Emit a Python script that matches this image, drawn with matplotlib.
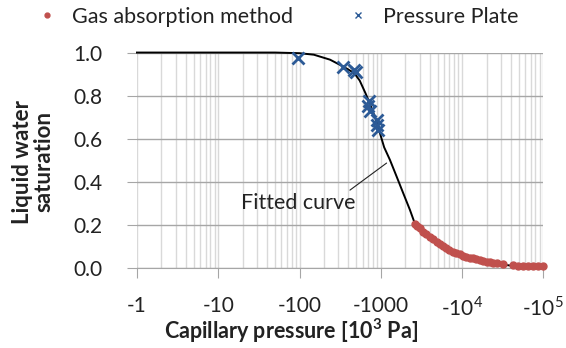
import numpy as np
import matplotlib
matplotlib.use("Agg")
import matplotlib.pyplot as plt
from matplotlib.ticker import FixedLocator, NullFormatter
from matplotlib.lines import Line2D

plt.rcParams['font.family'] = ['Lato', 'DejaVu Sans']
plt.rcParams['mathtext.fontset'] = 'custom'
plt.rcParams['mathtext.rm'] = 'Lato'
plt.rcParams['mathtext.bf'] = 'Lato:bold'

# pressure plate measurements (|P| in 10^3 Pa)
plate_p = [96, 339, 467, 494, 700, 720, 740, 887, 900, 912]
plate_s = [0.975, 0.933, 0.918, 0.91, 0.75, 0.773, 0.73, 0.688, 0.665, 0.642]

# gas absorption measurements
gas_p = [2630, 2800, 3000, 3325, 3600, 4000, 4400, 4850, 5300, 5800, 6400, 7000,
         7770, 8500, 9300, 10300, 11300, 12470, 13700, 15000, 16500, 18200, 20000,
         22000, 24200, 26550, 32000, 42600, 49000, 56300, 64600, 74200, 85200, 97800]
gas_s = [0.205, 0.195, 0.185, 0.169, 0.158, 0.145, 0.133, 0.122, 0.112, 0.103, 0.094,
         0.085, 0.076, 0.069, 0.063, 0.057, 0.052, 0.048, 0.044, 0.040, 0.036, 0.032,
         0.029, 0.026, 0.024, 0.022, 0.017, 0.012, 0.011, 0.011, 0.010, 0.010, 0.010, 0.010]

# fitted curve
fit_p = [1, 10, 50, 100, 150, 237, 345, 470, 550, 650, 720, 800, 887, 975, 1100,
         1294, 1563, 1888, 2280, 2630, 3325, 4850, 7770, 12470, 20000, 32000, 40000,
         60000, 100000]
fit_s = [1.0, 1.0, 1.0, 0.997, 0.99, 0.967, 0.935, 0.905, 0.87, 0.81, 0.77, 0.725,
         0.68, 0.626, 0.56, 0.502, 0.425, 0.347, 0.27, 0.205, 0.167, 0.12, 0.074,
         0.046, 0.027, 0.015, 0.011, 0.008, 0.005]

xticks = [1, 10, 100, 1000, 1e4, 1e5]
xlabels = ['-1', '-10', '-100', '-1000', r'-10$^4$', r'-10$^5$']
yticks = [0.0, 0.2, 0.4, 0.6, 0.8, 1.0]

red = '#c0504d'
blue = '#2c5a96'
txt = '#222222'
fs = 15

fig = plt.figure(figsize=(5.66, 3.48), dpi=100)
ax = fig.add_axes([0.242, 0.230, 0.718, 0.619])

ax.plot(fit_p, fit_s, color='black', lw=1.4, zorder=3, clip_on=False)
ax.plot(gas_p, gas_s, 'o', color=red, ms=5, zorder=4, clip_on=False)
ax.plot(plate_p, plate_s, 'x', color=blue, ms=8, mew=2, zorder=5, clip_on=False)

ax.set_xscale('log')
ax.set_xlim(1, 1e5)
ax.set_ylim(0, 1.0)

minors = [m * 10 ** d for d in range(5) for m in range(2, 10)]
ax.xaxis.set_major_locator(FixedLocator(xticks))
ax.xaxis.set_minor_locator(FixedLocator(minors))
ax.xaxis.set_minor_formatter(NullFormatter())
ax.set_xticklabels(xlabels)
ax.set_yticks(yticks)
ax.set_yticklabels(['%.1f' % v for v in yticks])

ax.grid(True, which='major', axis='y', color='#a6a6a6', lw=1)
ax.grid(True, which='both', axis='x', color='#d9d9d9', lw=1)
ax.set_axisbelow(True)

for s in ['top', 'right', 'left']:
    ax.spines[s].set_visible(False)
ax.spines['bottom'].set_color('#a6a6a6')

ax.tick_params(axis='x', which='major', direction='out', length=7, color='#a6a6a6',
               pad=13, labelsize=fs, labelcolor=txt)
ax.tick_params(axis='x', which='minor', length=0)
ax.tick_params(axis='y', direction='out', length=7, color='#a6a6a6', pad=18,
               labelsize=fs, labelcolor=txt)

ax.annotate('Fitted curve', xy=(1178, 0.487), xytext=(96, 0.302),
            fontsize=fs + 0.5, ha='center', va='center', color=txt,
            arrowprops=dict(arrowstyle='-', color=txt, lw=0.8,
                            shrinkA=0, shrinkB=0, relpos=(0.92, 1.0)))

fig.text(291 / 566, 1 - 331 / 348, r'Capillary pressure [10$^\mathbf{3}$ Pa]',
         fontsize=fs + 0.5, fontweight='bold', ha='center', va='center', color=txt)
fig.text(33 / 566, 1 - 162 / 348, 'Liquid water\nsaturation', fontsize=fs + 1,
         fontweight='bold', rotation=90, ha='center', va='center',
         linespacing=1.0, color=txt)

handles = [Line2D([], [], ls='none', marker='o', ms=3.5, color=red),
           Line2D([], [], ls='none', marker='x', ms=5, mew=1, color=blue)]
fig.legend(handles, ['Gas absorption method', 'Pressure Plate'],
           loc='center', bbox_to_anchor=(0.495, 1 - 17 / 348), ncol=2, frameon=False,
           fontsize=fs + 0.5, handlelength=0.5, handletextpad=0.9, columnspacing=2.8,
           labelcolor=txt)

fig.savefig('out.png', dpi=100)
